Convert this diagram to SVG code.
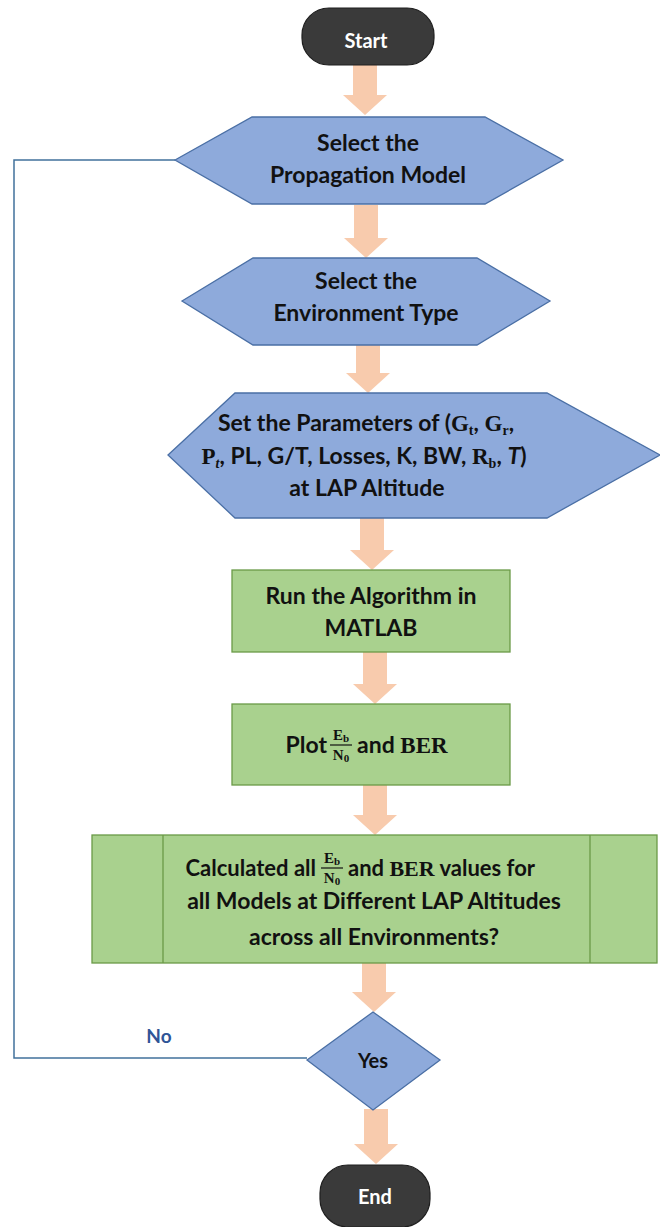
<svg xmlns="http://www.w3.org/2000/svg" width="660" height="1227" viewBox="0 0 660 1227">
  <style>
    .term { fill: #3a3a3a; stroke: #1e1e1e; stroke-width: 1.2; }
    .proc { fill: #8eaadb; stroke: #4a6fa5; stroke-width: 1.3; }
    .act { fill: #a9d18e; stroke: #6a9a48; stroke-width: 1.3; }
    .arrow { fill: #f8cbad; stroke: none; }
    .flow { fill: none; stroke: #41719c; stroke-width: 1.5; }
    text { font-family: Lato, "Open Sans", "Liberation Sans", sans-serif; font-weight: bold; font-size: 23px; fill: #111; }
    .c { text-anchor: middle; }
    .e { text-anchor: end; }
    .w { fill: #ffffff; font-size: 20px; }
    .m { font-family: "Liberation Serif", "DejaVu Serif", serif; font-weight: bold; }
    .sub { font-size: 14px; }
    .fr { font-family: "Liberation Serif", "DejaVu Serif", serif; font-weight: bold; font-size: 15px; text-anchor: middle; }
    .frs { font-size: 11px; }
    .bar { stroke: #111; stroke-width: 1.2; }
    .div { stroke: #6a9a48; stroke-width: 1.3; }
  </style>

  <!-- connectors -->
  <g id="connectors">
    <polyline class="flow" points="175,160 14,160 14,1058 307,1058"/>
    <path class="arrow" d="M353,65 H377 V95 H387 L365,115 L343,95 H353 Z"/>
    <path class="arrow" d="M354,205 H378 V238 H388 L366,258 L344,238 H354 Z"/>
    <path class="arrow" d="M356,345 H380 V373 H390 L368,393 L346,373 H356 Z"/>
    <path class="arrow" d="M360,518 H384 V550 H394 L372,570 L350,550 H360 Z"/>
    <path class="arrow" d="M363,652 H387 V684 H397 L375,704 L353,684 H363 Z"/>
    <path class="arrow" d="M363,785 H387 V815 H397 L375,835 L353,815 H363 Z"/>
    <path class="arrow" d="M362,963 H386 V992 H396 L374,1012 L352,992 H362 Z"/>
    <path class="arrow" d="M364,1109 H388 V1144 H398 L376,1164 L354,1144 H364 Z"/>
    <text x="159" y="1043" class="c" style="fill:#2f5597;font-size:19px">No</text>
  </g>

  <g id="start">
    <rect class="term" x="302" y="8" width="132" height="57" rx="27"/>
    <text x="366" y="48" class="c w">Start</text>
  </g>

  <g id="select-model">
    <polygon class="proc" points="175,160 252,117 485,117 563,160 485,204 252,204"/>
    <text x="368" y="151" class="c">Select the</text>
    <text x="368" y="183" class="c">Propagation Model</text>
  </g>

  <g id="select-environment">
    <polygon class="proc" points="182,301 253,258 477,258 550,301 477,345 253,345"/>
    <text x="366" y="289" class="c">Select the</text>
    <text x="366" y="321" class="c">Environment Type</text>
  </g>

  <g id="set-parameters">
    <polygon class="proc" points="168,455 235,393 547,393 660,455 547,518 235,518"/>
    <text x="366" y="431" class="c">Set the Parameters of (<tspan class="m">G</tspan><tspan class="m sub" dy="4">t</tspan><tspan dy="-4">, </tspan><tspan class="m">G</tspan><tspan class="m sub" dy="4">r</tspan><tspan dy="-4">,</tspan></text>
    <text x="364" y="464" class="c"><tspan class="m">P</tspan><tspan class="m sub" dy="4" font-style="italic">t</tspan><tspan dy="-4">, PL, G/T, Losses, K, BW, </tspan><tspan class="m">R</tspan><tspan class="m sub" dy="4">b</tspan><tspan dy="-4">, </tspan><tspan font-style="italic">T</tspan>)</text>
    <text x="367" y="496" class="c">at LAP Altitude</text>
  </g>

  <g id="run-algorithm">
    <rect class="act" x="232" y="570" width="278" height="82"/>
    <text x="371" y="604" class="c">Run the Algorithm in</text>
    <text x="371" y="636" class="c">MATLAB</text>
  </g>

  <g id="plot">
    <rect class="act" x="232" y="704" width="278" height="81"/>
    <text x="327" y="753" class="e">Plot</text>
    <text x="341" y="740" class="fr">E<tspan class="frs" dy="2">b</tspan></text>
    <line class="bar" x1="330" y1="745" x2="352" y2="745"/>
    <text x="341" y="760" class="fr">N<tspan class="frs" dy="2">0</tspan></text>
    <text x="357" y="753">and <tspan class="m">BER</tspan></text>
  </g>

  <g id="calculated-check">
    <rect class="act" x="92" y="835" width="565" height="128"/>
    <line class="div" x1="163" y1="835" x2="163" y2="963"/>
    <line class="div" x1="590" y1="835" x2="590" y2="963"/>
    <text x="316" y="876" class="e" style="font-size:22px">Calculated all</text>
    <text x="332" y="863" class="fr">E<tspan class="frs" dy="2">b</tspan></text>
    <line class="bar" x1="321" y1="868" x2="343" y2="868"/>
    <text x="332" y="883" class="fr">N<tspan class="frs" dy="2">0</tspan></text>
    <text x="348" y="876" style="font-size:22px">and <tspan class="m">BER</tspan> values for</text>
    <text x="374" y="909" class="c">all Models at Different LAP Altitudes</text>
    <text x="374" y="945" class="c">across all Environments?</text>
  </g>

  <g id="decision">
    <polygon class="proc" points="307,1060 373,1012 440,1060 373,1110"/>
    <text x="373" y="1068" class="c" style="font-size:20px">Yes</text>
  </g>

  <g id="end">
    <rect class="term" x="320" y="1165" width="110" height="62" rx="28"/>
    <text x="375" y="1204" class="c w">End</text>
  </g>
</svg>
